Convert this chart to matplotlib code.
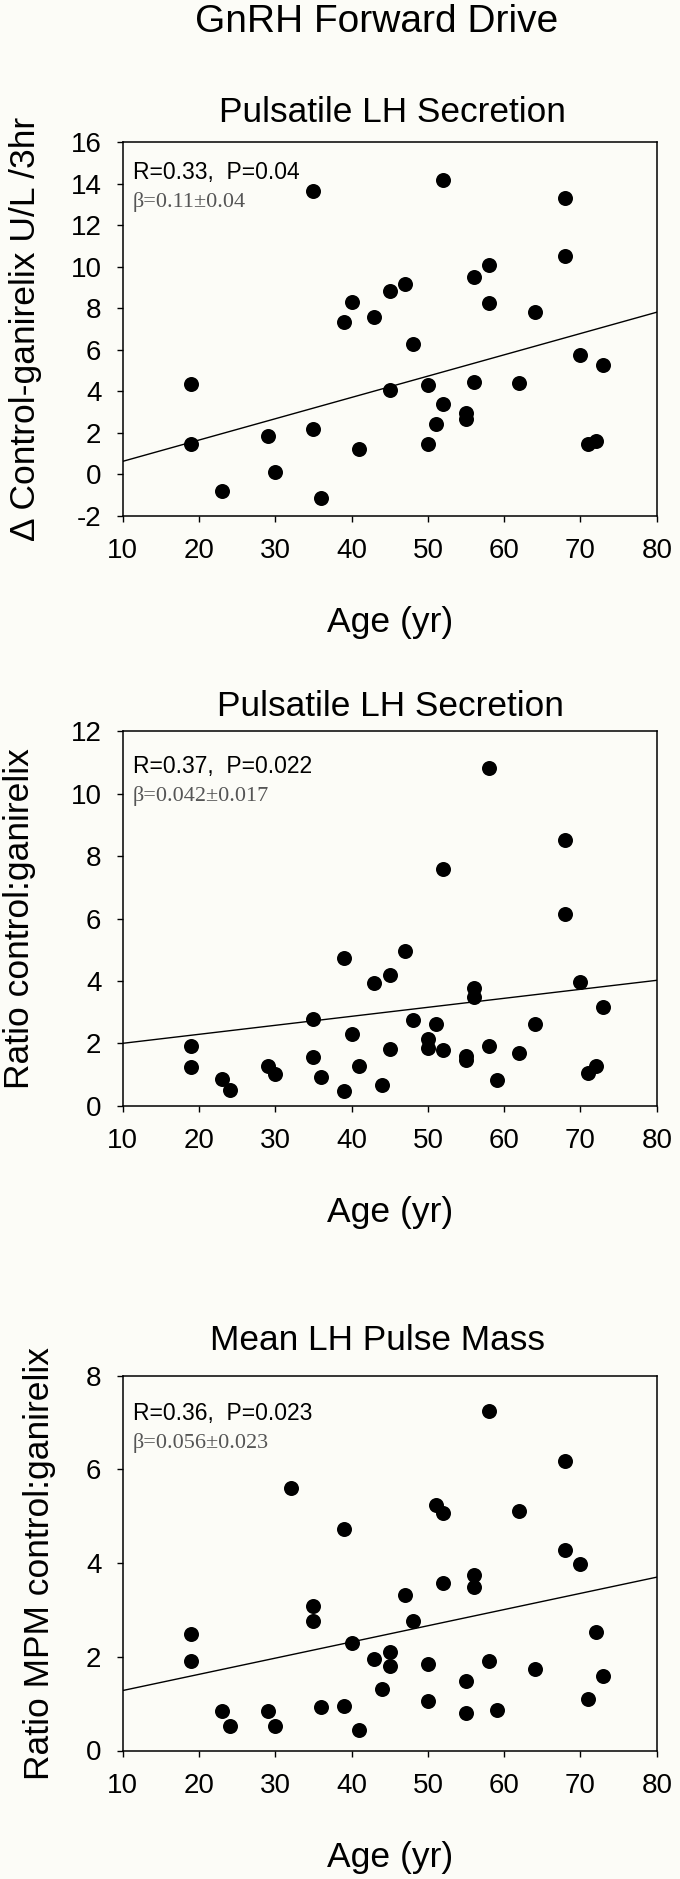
import matplotlib
matplotlib.use("Agg")
import matplotlib.pyplot as plt

# panel data
age1 = [19, 19, 23, 29, 30, 35, 35, 36, 39, 40, 41, 43, 45, 45, 47, 48, 50, 50,
        51, 52, 52, 55, 55, 56, 56, 58, 58, 62, 64, 68, 68, 70, 71, 72, 73]
delta1 = [4.35, 1.46, -0.79, 1.85, 0.11, 13.66, 2.2, -1.16, 7.34, 8.29, 1.2, 7.58,
          8.83, 4.08, 9.17, 6.3, 4.3, 1.46, 2.43, 14.2, 3.37, 2.94, 2.67, 9.5, 4.44,
          10.1, 8.25, 4.4, 7.8, 13.3, 10.5, 5.77, 1.46, 1.62, 5.25]

age2 = [19, 19, 23, 24, 29, 30, 35, 35, 36, 39, 39, 40, 41, 43, 44, 45, 45, 47, 48,
        50, 50, 51, 52, 52, 55, 55, 56, 56, 58, 58, 59, 62, 64, 68, 68, 70, 71, 72, 73]
ratio2 = [1.90, 1.24, 0.84, 0.49, 1.26, 1.01, 2.78, 1.55, 0.92, 4.73, 0.47, 2.29,
          1.26, 3.92, 0.66, 4.18, 1.81, 4.95, 2.75, 2.14, 1.86, 2.61, 7.59, 1.77,
          1.58, 1.47, 3.76, 3.47, 10.82, 1.92, 0.82, 1.69, 2.61, 8.51, 6.14, 3.95,
          1.06, 1.26, 3.18]

age3 = [19, 19, 23, 24, 29, 30, 32, 35, 35, 36, 39, 39, 40, 41, 43, 44, 45, 45, 47,
        48, 50, 50, 51, 52, 52, 55, 55, 56, 56, 58, 58, 59, 62, 64, 68, 68, 70, 71,
        72, 73]
mpm3 = [2.48, 1.91, 0.85, 0.52, 0.85, 0.53, 5.60, 3.08, 2.77, 0.93, 4.73, 0.96,
        2.29, 0.44, 1.96, 1.32, 2.10, 1.81, 3.31, 2.77, 1.85, 1.06, 5.25, 5.07,
        3.57, 1.48, 0.79, 3.75, 3.50, 7.24, 1.92, 0.86, 5.11, 1.73, 6.18, 4.27,
        3.98, 1.09, 2.53, 1.58]

fit_x = [10, 80]
fit1 = [0.62, 7.81]
fit2 = [2.0, 4.02]
fit3 = [1.28, 3.70]

titles = ["Pulsatile LH Secretion", "Pulsatile LH Secretion", "Mean LH Pulse Mass"]
ylabels = ["\u0394 Control-ganirelix U/L /3hr", "Ratio control:ganirelix",
           "Ratio MPM control:ganirelix"]
stats_r = ["R=0.33,  P=0.04", "R=0.37,  P=0.022", "R=0.36,  P=0.023"]
stats_b = ["\u03b2=0.11\u00b10.04", "\u03b2=0.042\u00b10.017", "\u03b2=0.056\u00b10.023"]
ylims = [(-2, 16), (0, 12), (0, 8)]
yticks = [range(-2, 17, 2), range(0, 13, 2), range(0, 9, 2)]

W, H = 680, 1879
bg = "#fcfcf7"
plt.rcParams["font.family"] = ["Liberation Sans", "DejaVu Sans"]
plt.rcParams["axes.unicode_minus"] = False

fig = plt.figure(figsize=(W / 100, H / 100), dpi=100, facecolor=bg)

# axes boxes in pixels: top, bottom
boxes = [(142.3, 515.7), (731.4, 1105.7), (1375.7, 1750.5)]
left, right = 122.7, 656.8
title_y = [112, 706, 1341]
title_x = [392, 390, 377]
ylab_x = [25, 20, 39]
stat_y = [(172, 202), (766, 796), (1413, 1443)]

fig.text(377 / W, 1 - 22 / H, "GnRH Forward Drive", ha="center", va="center",
         fontsize=28)

data = [(age1, delta1, fit1), (age2, ratio2, fit2), (age3, mpm3, fit3)]
for i, (x, y, fit) in enumerate(data):
    top, bot = boxes[i]
    ax = fig.add_axes([left / W, 1 - bot / H, (right - left) / W, (bot - top) / H])
    ax.set_facecolor(bg)
    ax.plot(fit_x, fit, color="black", lw=1.0)
    ax.plot(x, y, "o", color="black", markersize=10.8, markeredgewidth=0)
    ax.set_xlim(10, 80)
    ax.set_ylim(*ylims[i])
    ax.set_xticks(range(10, 81, 10))
    ax.set_yticks(list(yticks[i]))
    for s in ax.spines.values():
        s.set_linewidth(1.1)
    ax.tick_params(direction="out", length=4.3, width=1, labelsize=20)
    ax.tick_params(axis="x", pad=12)
    ax.tick_params(axis="y", pad=11)
    ax.set_xlabel("Age (yr)", fontsize=25.5)
    ax.xaxis.label.set_va("center")
    ax.xaxis.set_label_coords(0.5, -107 / (bot - top))
    ax.set_ylabel(ylabels[i], fontsize=25.5)
    ax.yaxis.label.set_va("center")
    ax.yaxis.set_label_coords((ylab_x[i] - left) / (right - left), 0.5)
    fig.text(title_x[i] / W, 1 - title_y[i] / H, titles[i], ha="center",
             va="center", fontsize=25.4)
    sx = (133 - left) / (right - left)
    ax.text(sx, 1 - (stat_y[i][0] - top) / (bot - top), stats_r[i],
            transform=ax.transAxes, ha="left", va="center", fontsize=16.5)
    ax.text(sx, 1 - (stat_y[i][1] - top) / (bot - top), stats_b[i],
            transform=ax.transAxes, ha="left", va="center", fontsize=16,
            family=["Liberation Serif", "DejaVu Serif"], color="#555555")

fig.savefig("out.png", dpi=100, facecolor=bg)
